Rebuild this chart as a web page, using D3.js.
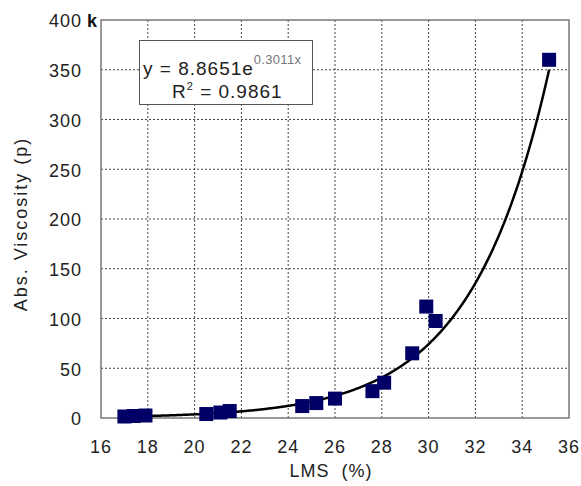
<!DOCTYPE html>
<html>
<head>
<meta charset="utf-8">
<script src="https://cdn.jsdelivr.net/npm/d3@7"></script>
<style>
  body { margin: 0; background: #fff; }
  text { font-family: "Liberation Sans", Arial, sans-serif; }
</style>
</head>
<body>
<div id="chart"></div>
<script>
// measured points, LMS (%) vs absolute viscosity (p)
var lms       = [17.0, 17.4, 17.9, 20.5, 21.1, 21.5, 24.6, 25.2, 26.0, 27.6, 28.1, 29.3, 29.9, 30.3, 35.15];
var viscosity = [1.5, 2, 2.5, 4, 5.5, 7, 12, 15, 19.5, 27, 35.5, 65, 112, 97.5, 360];
var xTicks = [16, 18, 20, 22, 24, 26, 28, 30, 32, 34, 36];
var yTicks = [0, 50, 100, 150, 200, 250, 300, 350, 400];

// exponential trendline as printed on the chart (y = a e^(b x)), x span of the fit
var fitA = 8.8651e-3, fitB = 0.3011;
var fitRange = [17.0, 35.15];

var width = 581, height = 486;
var margin = {left: 101, top: 20, right: 12, bottom: 68};

var svg = d3.select("#chart").append("svg")
    .attr("width", width)
    .attr("height", height);

var x = d3.scaleLinear().domain([16, 36]).range([margin.left, width - margin.right]);
var y = d3.scaleLinear().domain([0, 400]).range([height - margin.bottom, margin.top]);

// grid
svg.append("g").selectAll("line").data(xTicks.slice(1, -1)).enter().append("line")
    .attr("x1", function (d) { return x(d); }).attr("x2", function (d) { return x(d); })
    .attr("y1", y(0)).attr("y2", y(400))
    .attr("stroke", "#444").attr("stroke-width", 1).attr("stroke-dasharray", "2,2");
svg.append("g").selectAll("line").data(yTicks.slice(1, -1)).enter().append("line")
    .attr("x1", x(16)).attr("x2", x(36))
    .attr("y1", function (d) { return y(d); }).attr("y2", function (d) { return y(d); })
    .attr("stroke", "#444").attr("stroke-width", 1).attr("stroke-dasharray", "2,2");

// frame
svg.append("rect")
    .attr("x", x(16)).attr("y", y(400))
    .attr("width", x(36) - x(16)).attr("height", y(0) - y(400))
    .attr("fill", "none").attr("stroke", "#777").attr("stroke-width", 1.5);

// tick labels
svg.append("g").selectAll("text").data(yTicks).enter().append("text")
    .attr("x", 82).attr("y", function (d) { return y(d) + 1; })
    .attr("dy", "0.35em").attr("text-anchor", "end")
    .attr("font-size", 18).attr("letter-spacing", 1).attr("fill", "#222")
    .text(function (d) { return d; });
svg.append("text").attr("x", 87).attr("y", y(400) + 1).attr("dy", "0.35em")
    .attr("font-size", 18).attr("font-weight", "bold").attr("fill", "#111").text("k");

svg.append("g").selectAll("text").data(xTicks).enter().append("text")
    .attr("x", function (d) { return x(d); }).attr("y", 453)
    .attr("text-anchor", "middle")
    .attr("font-size", 18).attr("letter-spacing", 1).attr("fill", "#222")
    .text(function (d) { return d; });

// axis titles
svg.append("text").attr("x", 331).attr("y", 477).attr("text-anchor", "middle")
    .attr("font-size", 18).attr("letter-spacing", 1).attr("fill", "#222")
    .attr("xml:space", "preserve").text("LMS  (%)");
svg.append("text").attr("transform", "translate(27,224) rotate(-90)")
    .attr("text-anchor", "middle")
    .attr("font-size", 18).attr("letter-spacing", 2).attr("fill", "#222")
    .text("Abs. Viscosity (p)");

// trendline
var fitX = d3.range(fitRange[0], fitRange[1], 0.05).concat([fitRange[1]]);
svg.append("path")
    .datum(fitX)
    .attr("fill", "none").attr("stroke", "#000").attr("stroke-width", 2.5)
    .attr("d", d3.line()
        .x(function (d) { return x(d); })
        .y(function (d) { return y(fitA * Math.exp(fitB * d)); }));

// markers
var size = 14;
svg.append("g").selectAll("rect").data(d3.range(lms.length)).enter().append("rect")
    .attr("x", function (i) { return x(lms[i]) - size / 2; })
    .attr("y", function (i) { return y(viscosity[i]) - size / 2; })
    .attr("width", size).attr("height", size)
    .attr("fill", "#000066");

// equation box
svg.append("rect").attr("x", 139.5).attr("y", 40.5).attr("width", 173).attr("height", 64)
    .attr("fill", "#fff").attr("stroke", "#555").attr("stroke-width", 1);
var eq = svg.append("text").attr("x", 143).attr("y", 75)
    .attr("font-size", 19).attr("letter-spacing", 1).attr("fill", "#222");
eq.append("tspan").text("y = 8.8651e");
eq.append("tspan").attr("dy", -11).attr("font-size", 13).attr("letter-spacing", 0.3)
    .attr("fill", "#777").text("0.3011x");
var r2 = svg.append("text").attr("x", 172).attr("y", 98)
    .attr("font-size", 19).attr("letter-spacing", 1).attr("fill", "#222");
r2.append("tspan").text("R");
r2.append("tspan").attr("dy", -8).attr("font-size", 11).text("2");
r2.append("tspan").attr("dy", 8).text(" = 0.9861");
</script>
</body>
</html>
